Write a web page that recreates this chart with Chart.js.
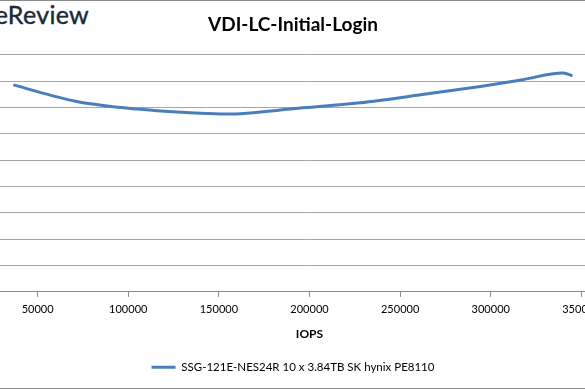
<!DOCTYPE html>
<html>
<head>
<meta charset="utf-8">
<script src="https://cdn.jsdelivr.net/npm/chart.js@4"></script>
<style>
  html, body { margin: 0; padding: 0; background: #fff; }
  body { width: 585px; height: 390px; position: relative; overflow: hidden; }
  #frame { position: absolute; left: -2px; top: 0; width: 590px; height: 387px;
           border-top: 1px solid #8c8c8c; border-bottom: 1px solid #8c8c8c; }
  #logo { position: absolute; right: 496px; top: -1px; font-family: Lato, sans-serif;
          font-size: 25px; color: #1b2a38; white-space: nowrap; letter-spacing: 0.3px;
          -webkit-text-stroke: 0.4px #1b2a38; }
  #wrap { position: absolute; left: -106px; top: 0; width: 798px; height: 390px; }
</style>
</head>
<body>
<div id="frame"></div>
<div id="logo">StorageReview</div>
<div id="wrap"><canvas id="myChart"></canvas></div>
<script>
// Werte
var iops = [36600, 70800, 105000, 139800, 153600, 195000, 228100, 261200, 294300, 316400, 340000, 345100];
var latency = [3.93, 3.62, 3.47, 3.39, 3.375, 3.49, 3.59, 3.74, 3.90, 4.02, 4.155, 4.10];
var seriesName = 'SSG-121E-NES24R 10 x 3.84TB SK hynix PE8110';
var xTicks = [0, 50000, 100000, 150000, 200000, 250000, 300000, 350000, 400000];

var points = iops.map(function (v, i) { return { x: v, y: latency[i] }; });

var ctx = document.getElementById('myChart').getContext('2d');
var myChart = new Chart(ctx, {
    type: 'line',
    data: {
        datasets: [{
            label: seriesName,
            data: points,
            borderColor: 'rgb(74, 126, 187)',
            backgroundColor: 'rgb(74, 126, 187)',
            borderWidth: 3,
            pointRadius: 0,
            cubicInterpolationMode: 'monotone',
            fill: false
        }]
    },
    options: {
        responsive: true,
        maintainAspectRatio: false,
        animation: false,
        layout: { padding: { left: 0, right: 0, top: 0, bottom: 7 } },
        plugins: {
            title: {
                display: true,
                text: 'VDI-LC-Initial-Login',
                color: '#000',
                font: { family: 'Lato', size: 19, weight: 'bold' },
                padding: { top: 13, bottom: 19 }
            },
            legend: {
                position: 'bottom',
                labels: {
                    color: '#000',
                    font: { family: 'Lato', size: 11.5 },
                    usePointStyle: true,
                    pointStyle: 'line',
                    pointStyleWidth: 24,
                    padding: 10
                }
            },
            tooltip: { enabled: false }
        },
        scales: {
            x: {
                type: 'linear',
                min: 0,
                max: 400000,
                afterBuildTicks: function (scale) {
                    scale.ticks = xTicks.map(function (v) { return { value: v }; });
                },
                afterFit: function (scale) {
                    // rechter Rand wie im Original
                    scale.paddingLeft = 0;
                    scale.paddingRight = 20;
                },
                ticks: {
                    color: '#000',
                    font: { family: 'Lato', size: 11 },
                    padding: 6,
                    maxRotation: 0,
                    autoSkip: false,
                    callback: function (v) { return String(v); }
                },
                grid: {
                    drawOnChartArea: false,
                    drawTicks: true,
                    tickLength: 5,
                    color: '#8c8c8c'
                },
                border: { color: '#8c8c8c', width: 1 },
                title: {
                    display: true,
                    text: 'IOPS',
                    color: '#000',
                    font: { family: 'Lato', size: 12, weight: 'bold' },
                    padding: { top: 5, bottom: 10 }
                }
            },
            y: {
                min: 0,
                max: 4.5,
                afterFit: function (scale) {
                    scale.width = 53;
                },
                ticks: {
                    stepSize: 0.5,
                    color: '#000',
                    font: { family: 'Lato', size: 11 }
                },
                grid: {
                    color: '#a6a6a6',
                    drawTicks: false
                },
                border: { display: false }
            }
        }
    }
});
</script>
</body>
</html>
